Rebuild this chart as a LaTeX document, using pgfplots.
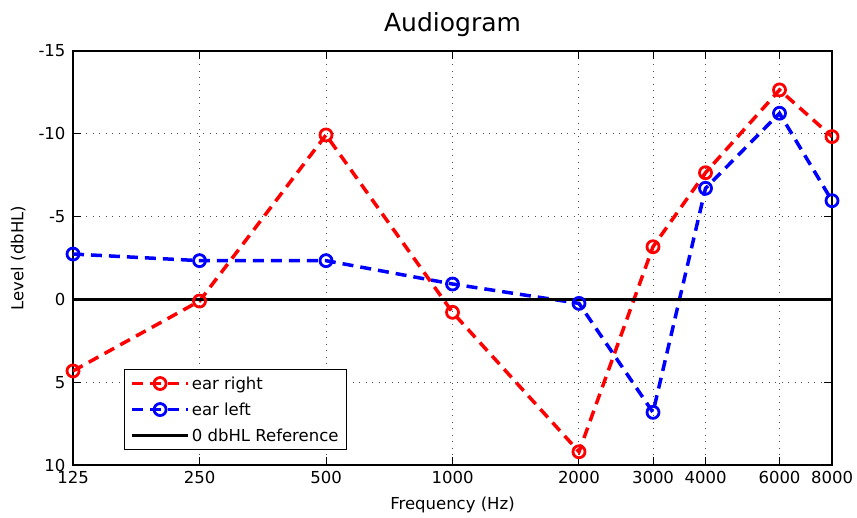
\documentclass[border=0pt]{standalone}
\usepackage{pgfplots}
\pgfplotsset{compat=1.18}
\usepackage{fontspec}
\setmainfont{DejaVu Sans}
\begin{document}
\begin{tikzpicture}
\begin{axis}[
  scale only axis,
  width=759pt, height=414pt,
  xmode=log, log basis x=2,
  xmin=125, xmax=8000,
  ymin=-15, ymax=10,
  y dir=reverse,
  xtick={125,250,500,1000,2000,3000,4000,6000,8000},
  xticklabels={125,250,500,1000,2000,3000,4000,6000,8000},
  ytick={-15,-10,-5,0,5,10},
  yticklabels={-15,-10,-5,0,5,10},
  tick label style={font=\fontsize{16.5}{19}\selectfont},
  label style={font=\fontsize{16.5}{19}\selectfont},
  title style={font=\fontsize{25}{30}\selectfont, yshift=5pt},
  title={Audiogram},
  xlabel={Frequency (Hz)},
  ylabel={Level (dbHL)},
  xlabel style={yshift=-6pt},
  ylabel style={yshift=6pt},
  grid=major,
  grid style={black!70, line width=1pt, dash pattern=on 1pt off 5.5pt},
  axis line style={line width=1.3pt},
  major tick length=8pt,
  tick style={black, line width=1pt},
  xticklabel style={yshift=-3pt},
  yticklabel style={xshift=-4pt},
  legend style={at={(0.067,0.036)}, anchor=south west, draw=black, line width=1pt,
    font=\fontsize{16.5}{19}\selectfont, row sep=8pt, inner xsep=6pt, inner ysep=5pt},
  legend cell align=left,
  legend image code/.code={\draw[mark repeat=2,mark phase=2] plot coordinates {(0pt,0pt) (28pt,0pt) (56pt,0pt)};},
]
\addplot[red, line width=3.5pt, dash pattern=on 11pt off 7pt, mark=o, mark size=6pt, mark options={solid, line width=2.8pt}]
  coordinates {(125,4.32) (250,0.1) (500,-9.93) (1000,0.78) (2000,9.2) (3000,-3.18) (4000,-7.65) (6000,-12.65) (8000,-9.83)};
\addlegendentry{ear right}
\addplot[blue, line width=3.5pt, dash pattern=on 11pt off 7pt, mark=o, mark size=6pt, mark options={solid, line width=2.8pt}]
  coordinates {(125,-2.74) (250,-2.34) (500,-2.34) (1000,-0.93) (2000,0.24) (3000,6.82) (4000,-6.71) (6000,-11.24) (8000,-5.96)};
\addlegendentry{ear left}
\addplot[black, line width=3.5pt] coordinates {(125,0) (8000,0)};
\addlegendentry{0 dbHL Reference}
\end{axis}
\pgfresetboundingbox
\path ([xshift=-73pt,yshift=-52pt]current axis.south west) rectangle ([xshift=25pt,yshift=51pt]current axis.north east);
\end{tikzpicture}
\end{document}
